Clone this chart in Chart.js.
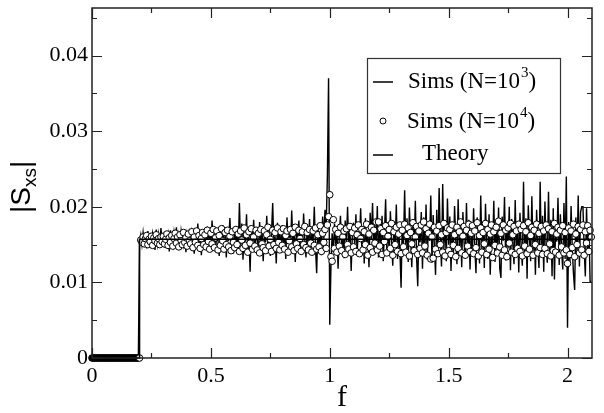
<!DOCTYPE html>
<html>
<head>
<meta charset="utf-8">
<script src="https://cdn.jsdelivr.net/npm/chart.js@4.4.1/dist/chart.umd.min.js"></script>
<style>
  html, body { margin: 0; padding: 0; background: #fff; }
  #wrap { width: 604px; height: 413px; position: relative; }
</style>
</head>
<body>
<div id="wrap"><canvas id="chart"></canvas></div>
<script>
/* ── DATA ───────────────────────────────────── */
// frequency grid: f = i * F_STEP, from 0 to 2.1
const F_STEP = 0.005;

// Sims (N=10^3), f = 0 .. 0.195 (below cut-off)
const simsN3Below = [
  0,0,0,0,0,0,0,0,0,0,0,0,0,0,0,0,0,0,0,0,
  0,0,0,0,0,0,0,0,0,0,0,0,0,0,0,0,0,0,0,0
];
// Sims (N=10^3), f = 0.200 .. 2.100
const simsN3 = [
  0.0155,0.0163,0.0150,0.0166,0.0152,0.0160,0.0145,0.0168,0.0153,0.0161,0.0147,0.0165,0.0156,0.0143,0.0170,0.0151,0.0164,0.0149,0.0172,0.0154,
  0.0160,0.0146,0.0167,0.0152,0.0163,0.0141,0.0169,0.0155,0.0148,0.0166,0.0153,0.0173,0.0150,0.0162,0.0144,0.0168,0.0157,0.0149,0.0165,0.0140,
  0.0163,0.0152,0.0171,0.0146,0.0166,0.0155,0.0138,0.0169,0.0151,0.0178,0.0147,0.0164,0.0136,0.0168,0.0153,0.0160,0.0143,0.0174,0.0150,0.0165,
  0.0148,0.0182,0.0152,0.0166,0.0140,0.0171,0.0156,0.0135,0.0168,0.0150,0.0176,0.0144,0.0163,0.0133,0.0170,0.0155,0.0185,0.0147,0.0161,0.0138,
  0.0172,0.0151,0.0165,0.0142,0.0205,0.0148,0.0178,0.0130,0.0167,0.0154,0.0190,0.0136,0.0162,0.0114,0.0175,0.0149,0.0183,0.0141,0.0168,0.0156,
  0.0139,0.0180,0.0150,0.0170,0.0128,0.0164,0.0153,0.0188,0.0143,0.0172,0.0135,0.0166,0.0205,0.0147,0.0161,0.0125,0.0179,0.0152,0.0169,0.0140,
  0.0176,0.0148,0.0163,0.0131,0.0186,0.0155,0.0170,0.0142,0.0195,0.0150,0.0167,0.0127,0.0173,0.0153,0.0182,0.0138,0.0165,0.0146,0.0191,0.0157,
  0.0133,0.0171,0.0149,0.0184,0.0140,0.0166,0.0155,0.0200,0.0145,0.0112,0.0174,0.0151,0.0168,0.0136,0.0187,0.0158,0.0196,0.0175,0.0240,0.0370,
  0.0044,0.0120,0.0165,0.0140,0.0178,0.0150,0.0170,0.0118,0.0160,0.0188,0.0145,0.0167,0.0132,0.0182,0.0154,0.0200,0.0142,0.0171,0.0115,0.0163,
  0.0179,0.0148,0.0190,0.0137,0.0168,0.0155,0.0198,0.0143,0.0174,0.0125,0.0185,0.0150,0.0165,0.0120,0.0192,0.0157,0.0205,0.0139,0.0176,0.0146,
  0.0201,0.0133,0.0171,0.0152,0.0188,0.0128,0.0166,0.0210,0.0144,0.0180,0.0136,0.0194,0.0155,0.0122,0.0175,0.0149,0.0203,0.0131,0.0168,0.0142,
  0.0093,0.0178,0.0150,0.0222,0.0139,0.0185,0.0127,0.0199,0.0158,0.0120,0.0181,0.0146,0.0208,0.0135,0.0095,0.0172,0.0153,0.0193,0.0118,0.0186,
  0.0141,0.0203,0.0130,0.0176,0.0155,0.0215,0.0126,0.0189,0.0148,0.0110,0.0196,0.0137,0.0225,0.0159,0.0121,0.0230,0.0144,0.0182,0.0128,0.0211,
  0.0150,0.0187,0.0115,0.0174,0.0138,0.0201,0.0156,0.0124,0.0210,0.0145,0.0179,0.0120,0.0193,0.0152,0.0131,0.0205,0.0140,0.0183,0.0117,0.0170,
  0.0135,0.0198,0.0148,0.0112,0.0186,0.0160,0.0125,0.0215,0.0143,0.0177,0.0119,0.0204,0.0152,0.0131,0.0190,0.0110,0.0173,0.0146,0.0208,0.0127,
  0.0181,0.0140,0.0199,0.0118,0.0106,0.0187,0.0155,0.0213,0.0129,0.0172,0.0145,0.0200,0.0116,0.0184,0.0151,0.0124,0.0209,0.0137,0.0178,0.0113,
  0.0192,0.0147,0.0122,0.0233,0.0133,0.0185,0.0105,0.0202,0.0158,0.0128,0.0214,0.0141,0.0176,0.0110,0.0196,0.0150,0.0119,0.0233,0.0136,0.0188,
  0.0114,0.0207,0.0149,0.0126,0.0220,0.0139,0.0183,0.0108,0.0198,0.0104,0.0175,0.0154,0.0212,0.0123,0.0190,0.0144,0.0117,0.0205,0.0131,0.0240,
  0.0040,0.0180,0.0126,0.0201,0.0145,0.0112,0.0090,0.0186,0.0137,0.0215,0.0121,0.0193,0.0200,0.0200,0.0145,0.0108,0.0198,0.0140,0.0175,0.0101,
  0.0101
];

// Sims (N=10^4), f = 0 .. 0.195 (below cut-off)
const simsN4Below = [
  0,0,0,0,0,0,0,0,0,0,0,0,0,0,0,0,0,0,0,0,
  0,0,0,0,0,0,0,0,0,0,0,0,0,0,0,0,0,0,0,0
];
// Sims (N=10^4), f = 0.200 .. 2.100
const simsN4 = [
  0,     0.0156,0.0153,0.0160,0.0151,0.0158,0.0162,0.0150,0.0157,0.0154,0.0161,0.0149,0.0159,0.0155,0.0163,0.0152,0.0158,0.0150,0.0160,0.0154,
  0.0161,0.0151,0.0157,0.0164,0.0149,0.0159,0.0153,0.0162,0.0148,0.0158,0.0165,0.0152,0.0160,0.0147,0.0163,0.0155,0.0150,0.0166,0.0153,0.0159,
  0.0148,0.0164,0.0155,0.0151,0.0167,0.0146,0.0160,0.0153,0.0168,0.0149,0.0162,0.0145,0.0158,0.0166,0.0150,0.0163,0.0147,0.0169,0.0154,0.0144,
  0.0165,0.0151,0.0170,0.0146,0.0159,0.0168,0.0143,0.0162,0.0149,0.0171,0.0155,0.0144,0.0166,0.0150,0.0169,0.0147,0.0161,0.0142,0.0167,0.0153,
  0.0146,0.0170,0.0150,0.0164,0.0141,0.0168,0.0156,0.0145,0.0172,0.0149,0.0163,0.0140,0.0167,0.0152,0.0171,0.0144,0.0160,0.0148,0.0169,0.0143,
  0.0165,0.0139,0.0170,0.0151,0.0146,0.0168,0.0142,0.0163,0.0173,0.0148,0.0157,0.0141,0.0169,0.0150,0.0166,0.0145,0.0172,0.0153,0.0143,0.0167,
  0.0149,0.0171,0.0144,0.0162,0.0168,0.0140,0.0155,0.0170,0.0147,0.0165,0.0142,0.0173,0.0151,0.0145,0.0169,0.0158,0.0141,0.0167,0.0150,0.0174,
  0.0146,0.0166,0.0143,0.0170,0.0152,0.0140,0.0168,0.0149,0.0172,0.0144,0.0163,0.0147,0.0175,0.0141,0.0165,0.0153,0.0170,0.0145,0.0176,0.0187,
  0.0216,0.0134,0.0128,0.0183,0.0145,0.0170,0.0140,0.0165,0.0148,0.0173,0.0142,0.0160,0.0168,0.0137,0.0171,0.0150,0.0144,0.0174,0.0139,0.0166,
  0.0147,0.0172,0.0141,0.0163,0.0176,0.0138,0.0158,0.0170,0.0143,0.0167,0.0150,0.0177,0.0136,0.0164,0.0146,0.0173,0.0140,0.0169,0.0152,0.0180,
  0.0143,0.0180,0.0148,0.0171,0.0137,0.0166,0.0154,0.0175,0.0139,0.0161,0.0170,0.0145,0.0178,0.0136,0.0167,0.0150,0.0173,0.0141,0.0164,0.0176,
  0.0138,0.0169,0.0147,0.0177,0.0140,0.0162,0.0172,0.0135,0.0166,0.0151,0.0179,0.0142,0.0160,0.0174,0.0137,0.0168,0.0145,0.0176,0.0139,0.0180,
  0.0148,0.0171,0.0136,0.0165,0.0177,0.0131,0.0160,0.0132,0.0173,0.0144,0.0168,0.0138,0.0175,0.0150,0.0163,0.0140,0.0178,0.0135,0.0166,0.0172,
  0.0142,0.0170,0.0137,0.0176,0.0149,0.0163,0.0134,0.0173,0.0145,0.0167,0.0180,0.0139,0.0161,0.0174,0.0136,0.0169,0.0148,0.0177,0.0141,0.0165,
  0.0175,0.0138,0.0168,0.0146,0.0179,0.0135,0.0162,0.0172,0.0140,0.0166,0.0151,0.0178,0.0137,0.0170,0.0144,0.0164,0.0176,0.0133,0.0167,0.0149,
  0.0173,0.0139,0.0181,0.0147,0.0165,0.0136,0.0176,0.0143,0.0169,0.0134,0.0172,0.0152,0.0178,0.0140,0.0163,0.0174,0.0137,0.0168,0.0145,0.0177,
  0.0141,0.0170,0.0135,0.0175,0.0148,0.0167,0.0138,0.0179,0.0144,0.0162,0.0173,0.0136,0.0169,0.0150,0.0177,0.0139,0.0165,0.0146,0.0174,0.0137,
  0.0168,0.0145,0.0176,0.0138,0.0171,0.0151,0.0135,0.0167,0.0142,0.0178,0.0140,0.0164,0.0173,0.0136,0.0169,0.0147,0.0175,0.0139,0.0166,0.0143,
  0.0125,0.0172,0.0137,0.0168,0.0146,0.0177,0.0134,0.0164,0.0150,0.0174,0.0139,0.0170,0.0143,0.0176,0.0136,0.0167,0.0152,0.0175,0.0141,0.0169,
  0.0160
];

// Theory: step at the cut-off frequency
const theoryF = [0, 0.2, 0.2, 2.1];
const theoryS = [0, 0, 0.0157, 0.0157];

const xTicks = [0, 0.5, 1, 1.5, 2];
const xMinor = [0.25, 0.75, 1.25, 1.75];
const yTicks = [0, 0.01, 0.02, 0.03, 0.04];
const yMinor = [0.005, 0.015, 0.025, 0.035, 0.045];

/* ── BUILD POINTS ───────────────────────────── */
function toPoints(below, vals) {
    return below.concat(vals).map((v, i) => ({ x: +(i * F_STEP).toFixed(3), y: v }));
}
const ptsN3 = toPoints(simsN3Below, simsN3);
const ptsN4 = toPoints(simsN4Below, simsN4);
const ptsTheory = theoryF.map((f, i) => ({ x: f, y: theoryS[i] }));

const SERIF = "'Liberation Serif'";
const SANS  = "'Liberation Sans'";

/* ── FRAME, INWARD TICKS, TITLES, LEGEND ────── */
const decorPlugin = {
    id: 'decor',
    afterDatasetsDraw(chart) {
        const { ctx, chartArea: a, scales: { x, y } } = chart;
        ctx.save();
        ctx.strokeStyle = '#222';
        ctx.lineWidth = 1.5;
        ctx.strokeRect(a.left, a.top, a.right - a.left, a.bottom - a.top);

        ctx.lineWidth = 1.2;
        ctx.beginPath();
        const tickX = (vals, len) => vals.forEach(v => {
            const px = Math.round(x.getPixelForValue(v)) + 0.5;
            ctx.moveTo(px, a.bottom); ctx.lineTo(px, a.bottom - len);
            ctx.moveTo(px, a.top);    ctx.lineTo(px, a.top + len);
        });
        const tickY = (vals, len) => vals.forEach(v => {
            const py = Math.round(y.getPixelForValue(v)) + 0.5;
            ctx.moveTo(a.left, py);  ctx.lineTo(a.left + len, py);
            ctx.moveTo(a.right, py); ctx.lineTo(a.right - len, py);
        });
        tickX(xTicks, 10); tickX(xMinor, 5);
        tickY(yTicks, 10); tickY(yMinor, 5);
        ctx.stroke();
        ctx.restore();
    },
    afterDraw(chart) {
        const { ctx } = chart;
        ctx.save();
        ctx.fillStyle = '#000';
        ctx.strokeStyle = '#000';

        // x title
        ctx.font = `30px ${SERIF}`;
        ctx.textAlign = 'center';
        ctx.textBaseline = 'alphabetic';
        ctx.fillText('f', 342, 406);

        // y title |S_xs|, rotated
        ctx.save();
        ctx.translate(30, 213);
        ctx.rotate(-Math.PI / 2);
        ctx.textAlign = 'left';
        ctx.font = `28px ${SANS}`;
        let cx = 0;
        ctx.fillText('|', cx, 0); cx += ctx.measureText('|').width;
        ctx.fillText('S', cx, 0); cx += ctx.measureText('S').width;
        ctx.font = `19px ${SANS}`;
        ctx.fillText('xs', cx, 6); cx += ctx.measureText('xs').width;
        ctx.font = `28px ${SANS}`;
        ctx.fillText('|', cx, 0);
        ctx.restore();

        // legend box
        ctx.lineWidth = 1.2;
        ctx.strokeStyle = '#333';
        ctx.strokeRect(367.5, 58.5, 193, 115);

        ctx.strokeStyle = '#000';
        ctx.lineWidth = 1.5;
        ctx.beginPath();
        ctx.moveTo(373, 82); ctx.lineTo(393, 82);
        ctx.moveTo(373, 155); ctx.lineTo(393, 155);
        ctx.stroke();

        ctx.lineWidth = 1;
        ctx.fillStyle = '#fff';
        ctx.beginPath();
        ctx.arc(383, 121, 3, 0, Math.PI * 2);
        ctx.fill(); ctx.stroke();

        ctx.fillStyle = '#000';
        ctx.textAlign = 'left';
        const legendLabel = (x0, base, txt, sup) => {
            ctx.font = `23px ${SERIF}`;
            ctx.fillText(txt, x0, base);
            let w = ctx.measureText(txt).width;
            ctx.font = `15px ${SERIF}`;
            ctx.fillText(sup, x0 + w + 1, base - 11);
            w += ctx.measureText(sup).width + 1;
            ctx.font = `23px ${SERIF}`;
            ctx.fillText(')', x0 + w, base);
        };
        legendLabel(408, 88, 'Sims (N=10', '3');
        legendLabel(407, 128, 'Sims (N=10', '4');
        ctx.font = `23px ${SERIF}`;
        ctx.fillText('Theory', 422, 160);
        ctx.restore();
    }
};

// drop Chart.js's automatic label overflow padding so the plot box sits where it should
const noPad = s => { s.paddingTop = 0; s.paddingBottom = 0; s.paddingLeft = 0; s.paddingRight = 0; };

/* ── CHART ──────────────────────────────────── */
function initChart() {
    const el = document.getElementById('chart');
    new Chart(el, {
        type: 'line',
        data: {
            datasets: [
                {
                    label: 'Theory',
                    data: ptsTheory,
                    borderColor: '#000',
                    borderWidth: 1.5,
                    pointRadius: 0,
                    fill: false,
                    order: 0,
                    clip: 5
                },
                {
                    label: 'Sims (N=10⁴)',
                    data: ptsN4,
                    showLine: false,
                    pointRadius: 3.3,
                    pointBorderWidth: 1,
                    pointBorderColor: '#000',
                    pointBackgroundColor: c => (c.raw && c.raw.x < 0.199) ? '#000' : '#fff',
                    order: 1,
                    clip: 5
                },
                {
                    label: 'Sims (N=10³)',
                    data: ptsN3,
                    borderColor: '#000',
                    borderWidth: 1.4,
                    pointRadius: 0,
                    tension: 0,
                    fill: false,
                    order: 2,
                    clip: 5
                }
            ]
        },
        options: {
            responsive: true,
            maintainAspectRatio: false,
            animation: false,
            events: [],
            layout: { padding: { top: 8, right: 12, left: 0, bottom: 0 } },
            plugins: {
                legend: { display: false },
                tooltip: { enabled: false }
            },
            scales: {
                x: {
                    type: 'linear',
                    min: 0, max: 2.103,
                    grid: { display: false, drawTicks: false },
                    border: { display: false },
                    afterBuildTicks: s => { s.ticks = xTicks.map(v => ({ value: v })); },
                    afterFit: s => { s.height = 55; noPad(s); },
                    ticks: {
                        padding: 5,
                        color: '#000',
                        maxRotation: 0,
                        font: { family: SERIF, size: 22 },
                        callback: v => String(v)
                    }
                },
                y: {
                    type: 'linear',
                    min: 0, max: 0.0463,
                    grid: { display: false, drawTicks: false },
                    border: { display: false },
                    afterBuildTicks: s => { s.ticks = yTicks.map(v => ({ value: v })); },
                    afterFit: s => { s.width = 92; noPad(s); },
                    ticks: {
                        padding: 4,
                        color: '#000',
                        font: { family: SERIF, size: 22 },
                        callback: v => String(v)
                    }
                }
            }
        },
        plugins: [decorPlugin]
    });
}

Promise.all([
    document.fonts.load(`22px ${SERIF}`),
    document.fonts.load(`28px ${SANS}`)
]).catch(() => {}).then(() => {
    if (document.readyState === 'complete') {
        initChart();
    } else {
        window.addEventListener('load', initChart);
    }
});
</script>
</body>
</html>
